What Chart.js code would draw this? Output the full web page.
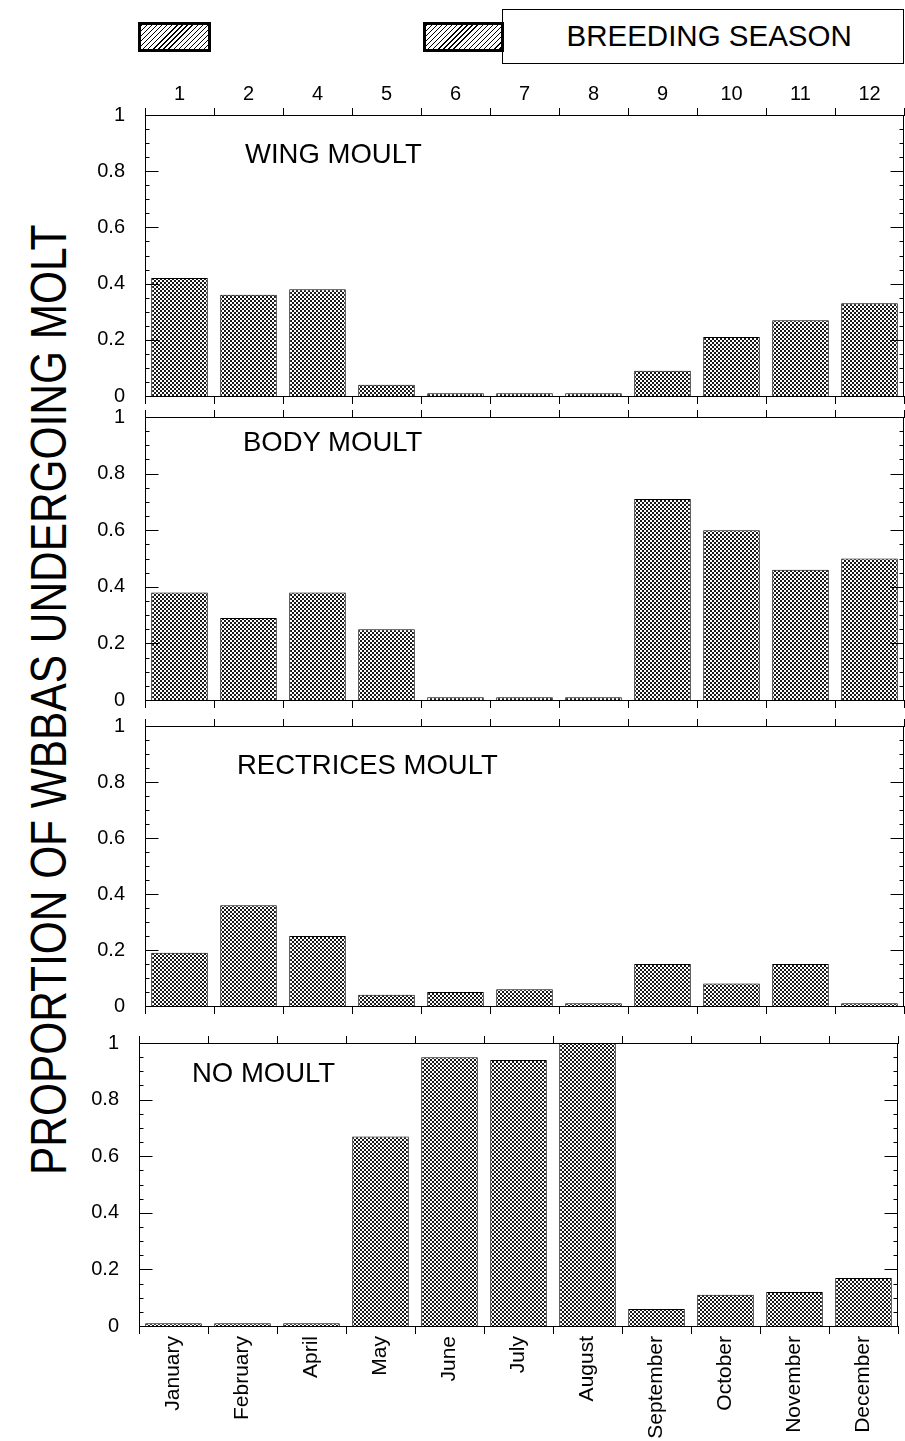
<!DOCTYPE html>
<html>
<head>
<meta charset="utf-8">
<script src="https://cdn.jsdelivr.net/npm/chart.js@4.4.1/dist/chart.umd.min.js"></script>
<style>
  html, body { margin: 0; padding: 0; background: #fff; }
  body { width: 905px; height: 1441px; position: relative; overflow: hidden; font-family: "Liberation Sans", Arial, sans-serif; }
  canvas { position: absolute; left: 0; }
  .txt { position: absolute; white-space: nowrap; line-height: 1; color: #000; }
  .hatch { position: absolute; box-sizing: border-box; border: 3px solid #000;
           background: repeating-linear-gradient(135deg, #000 0 1px, #fff 1px 3.6px); }
  #season { position: absolute; box-sizing: border-box; border: 1px solid #000; background: #fff; }
</style>
</head>
<body>
<div class="hatch" style="left:138px;top:22px;width:73px;height:30px;"></div>
<div id="season" style="left:502px;top:9px;width:402px;height:55px;"></div>
<div class="hatch" style="left:423px;top:22px;width:81px;height:30px;"></div>
<div class="txt" id="tSeason" style="font-size:29.5px;">BREEDING SEASON</div>
<div class="txt" id="yTitle" style="font-size:50px;left:0;top:0;transform-origin:0 0;">PROPORTION OF WBBAS UNDERGOING MOLT</div>

<canvas id="p1"></canvas>
<canvas id="p2"></canvas>
<canvas id="p3"></canvas>
<canvas id="p4"></canvas>

<div class="txt" id="t1" style="font-size:27.5px;">WING MOULT</div>
<div class="txt" id="t2" style="font-size:27.5px;">BODY MOULT</div>
<div class="txt" id="t3" style="font-size:27.5px;">RECTRICES MOULT</div>
<div class="txt" id="t4" style="font-size:27.5px;">NO MOULT</div>

<script>
// ---------------- DATA ----------------
const months = ["January","February","April","May","June","July","August","September","October","November","December"];
const monthNumbers = ["1","2","4","5","6","7","8","9","10","11","12"];
const wingMoult      = [0.42, 0.36, 0.38, 0.04, 0.01, 0.01, 0.01, 0.09, 0.21, 0.27, 0.33];
const bodyMoult      = [0.38, 0.29, 0.38, 0.25, 0.01, 0.01, 0.01, 0.71, 0.60, 0.46, 0.50];
const rectricesMoult = [0.19, 0.36, 0.25, 0.04, 0.05, 0.06, 0.01, 0.15, 0.08, 0.15, 0.01];
const noMoult        = [0.01, 0.01, 0.01, 0.67, 0.95, 0.94, 1.00, 0.06, 0.11, 0.12, 0.17];
const yTickValues    = [0, 0.2, 0.4, 0.6, 0.8, 1];
const panelTitles    = ["WING MOULT", "BODY MOULT", "RECTRICES MOULT", "NO MOULT"];

// ---------------- LAYOUT ----------------
const PAGE_W = 905;
const panels = [
  { id: 'p1', values: wingMoult,      canvasTop: 70,   chartTop: 115,  chartBottom: 396,  left: 145, right: 904, topLabels: true,  bottomLabels: false, title: {x: 245, cy: 152.5} },
  { id: 'p2', values: bodyMoult,      canvasTop: 400,  chartTop: 417,  chartBottom: 700,  left: 145, right: 904, topLabels: false, bottomLabels: false, title: {x: 243, cy: 441} },
  { id: 'p3', values: rectricesMoult, canvasTop: 709,  chartTop: 726,  chartBottom: 1006, left: 145, right: 904, topLabels: false, bottomLabels: false, title: {x: 237, cy: 764} },
  { id: 'p4', values: noMoult,        canvasTop: 1025, chartTop: 1043, chartBottom: 1326, left: 139, right: 898, topLabels: false, bottomLabels: true,  title: {x: 192, cy: 1071.5} }
];
const FONT = "'Liberation Sans', Arial, sans-serif";

function makePattern(ctx) {
  const c = document.createElement('canvas');
  c.width = 4; c.height = 4;
  const g = c.getContext('2d');
  const img = g.createImageData(4, 4);
  for (let y = 0; y < 4; y++) {
    for (let x = 0; x < 4; x++) {
      const black = ((Math.floor(x / 2) + Math.floor(y / 2)) % 2) === 0;
      const i = (y * 4 + x) * 4;
      const v = black ? 25 : 255;
      img.data[i] = v; img.data[i + 1] = v; img.data[i + 2] = v; img.data[i + 3] = 255;
    }
  }
  g.putImageData(img, 0, 0);
  return ctx.createPattern(c, 'repeat');
}

const framePlugin = {
  id: 'frame',
  afterDraw(chart) {
    const { ctx, chartArea: a, scales: { y } } = chart;
    ctx.save();
    ctx.strokeStyle = '#000';
    ctx.lineWidth = 1;
    ctx.beginPath();
    const R = Math.round(a.right) - 0.5;
    const L = Math.round(a.left) + 0.5;
    ctx.moveTo(R, a.top); ctx.lineTo(R, a.bottom);
    for (let i = 0; i <= 20; i++) {
      const v = i * 0.05;
      const py = Math.round(y.getPixelForValue(v)) + 0.5;
      const len = (i % 4 === 0) ? 13 : 4;
      ctx.moveTo(L, py); ctx.lineTo(L + len, py);
      ctx.moveTo(R, py); ctx.lineTo(R - len, py);
    }
    ctx.stroke();
    ctx.restore();
  }
};

function zeroPad(s) { s.paddingTop = 0; s.paddingBottom = 0; s.paddingLeft = 0; s.paddingRight = 0; }

panels.forEach(p => {
  const cv = document.getElementById(p.id);
  const canvasBottom = p.bottomLabels ? 1441 : p.chartBottom + 14;
  const H = canvasBottom - p.canvasTop;
  cv.width = PAGE_W; cv.height = H;
  cv.style.top = p.canvasTop + 'px';
  cv.style.width = PAGE_W + 'px'; cv.style.height = H + 'px';
  const ctx = cv.getContext('2d');
  const pattern = makePattern(ctx);
  const topH = p.chartTop - p.canvasTop;
  const botH = canvasBottom - p.chartBottom;

  new Chart(ctx, {
    type: 'bar',
    data: {
      labels: months,
      datasets: [{
        data: p.values,
        backgroundColor: pattern,
        borderColor: '#000',
        borderWidth: 1,
        borderSkipped: 'bottom',
        categoryPercentage: 1,
        barPercentage: 0.82
      }]
    },
    options: {
      responsive: false,
      animation: false,
      devicePixelRatio: 1,
      layout: { padding: { left: 0, top: 0, bottom: 0, right: PAGE_W - p.right } },
      plugins: { legend: { display: false }, tooltip: { enabled: false } },
      scales: {
        x: {
          type: 'category',
          position: 'bottom',
          offset: true,
          grid: { display: true, offset: true, drawOnChartArea: false, drawTicks: true, tickLength: 8, color: '#000' },
          border: { display: true, color: '#000', width: 1 },
          ticks: {
            display: p.bottomLabels, autoSkip: false, minRotation: 90, maxRotation: 90,
            padding: 2, color: '#000', font: { family: FONT, size: 21 }
          },
          afterFit: s => { s.height = botH; zeroPad(s); }
        },
        xTop: {
          type: 'category',
          position: 'top',
          labels: monthNumbers,
          offset: true,
          grid: { display: true, offset: true, drawOnChartArea: false, drawTicks: true, tickLength: 7, color: '#000' },
          border: { display: true, color: '#000', width: 1 },
          ticks: { display: p.topLabels, autoSkip: false, maxRotation: 0, padding: 2, color: '#000', font: { family: FONT, size: 20 } },
          afterFit: s => { s.height = topH; zeroPad(s); }
        },
        y: {
          type: 'linear',
          position: 'left',
          min: 0, max: 1,
          afterBuildTicks: s => { s.ticks = yTickValues.map(v => ({ value: v })); },
          grid: { display: false, drawTicks: false },
          border: { display: true, color: '#000', width: 1 },
          ticks: { padding: 20, color: '#000', font: { family: FONT, size: 20 }, callback: v => String(+v.toFixed(1)) },
          afterFit: s => { s.width = p.left; zeroPad(s); }
        }
      }
    },
    plugins: [framePlugin]
  });
});

// ---------------- TEXT PLACEMENT ----------------
function placeCap(el, x, cy) {
  const fs = parseFloat(el.style.fontSize);
  el.style.left = x + 'px';
  el.style.top = (cy - 0.472 * fs) + 'px';
}
panels.forEach((p, i) => placeCap(document.getElementById('t' + (i + 1)), p.title.x, p.title.cy));

const ts = document.getElementById('tSeason');
placeCap(ts, 709 - ts.offsetWidth / 2, 35);

const yt = document.getElementById('yTitle');
const w = yt.offsetWidth, h = yt.offsetHeight;
const sx = 950 / w;
yt.style.transform = `translate(49px, 700px) rotate(-90deg) scale(${sx}, 1) translate(${-w / 2}px, ${-h / 2}px)`;
</script>
</body>
</html>
